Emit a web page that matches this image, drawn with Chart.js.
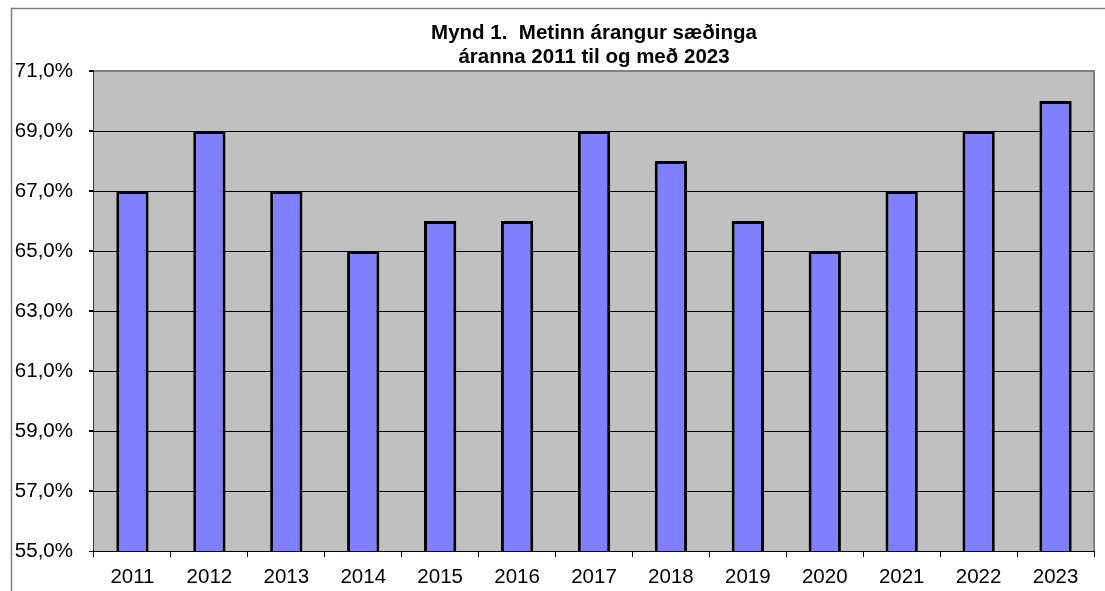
<!DOCTYPE html>
<html>
<head>
<meta charset="utf-8">
<script src="https://cdn.jsdelivr.net/npm/chart.js@4"></script>
<style>
  html, body { margin: 0; padding: 0; background: #ffffff; }
  canvas { display: block; }
</style>
</head>
<body>
<canvas id="chart" width="1105" height="591"></canvas>
<script>
// data
const years = ["2011", "2012", "2013", "2014", "2015", "2016", "2017", "2018", "2019", "2020", "2021", "2022", "2023"];
const arangur = [67, 69, 67, 65, 66, 66, 69, 68, 66, 65, 67, 69, 70];
const titleLines = ["Mynd 1.  Metinn árangur sæðinga", "áranna 2011 til og með 2023"];

// grey plot background, frame around the plot and the outer chart border
const frame = {
    id: "frame",
    beforeDatasetsDraw(chart) {
        const { ctx, chartArea: a } = chart;
        ctx.save();
        ctx.fillStyle = "#c0c0c0";
        ctx.fillRect(a.left, a.top, a.right - a.left, a.bottom - a.top);
        // gridlines were drawn before this hook, so draw them again over the fill
        const y = chart.scales.y;
        ctx.strokeStyle = "#000000";
        ctx.lineWidth = 1;
        y.ticks.forEach((t, i) => {
            const py = Math.round(y.getPixelForTick(i)) + 0.5;
            ctx.beginPath();
            ctx.moveTo(a.left - 5, py);
            ctx.lineTo(a.right, py);
            ctx.stroke();
        });
        ctx.strokeStyle = "#808080";
        ctx.lineWidth = 2;
        ctx.beginPath();
        ctx.moveTo(a.left, a.top);
        ctx.lineTo(a.right, a.top);
        ctx.lineTo(a.right, a.bottom);
        ctx.stroke();
        ctx.restore();
    },
    afterDraw(chart) {
        const { ctx, width, height } = chart;
        ctx.save();
        ctx.strokeStyle = "#808080";
        ctx.lineWidth = 1.5;
        ctx.beginPath();
        ctx.moveTo(11.5, height + 5);
        ctx.lineTo(11.5, 8.5);
        ctx.lineTo(width + 5, 8.5);
        ctx.stroke();
        ctx.restore();
    }
};

Chart.defaults.font.family = "'Liberation Sans', Arial, sans-serif";
Chart.defaults.color = "#000000";

new Chart(document.getElementById("chart").getContext("2d"), {
    type: "bar",
    data: {
        labels: years,
        datasets: [{
            data: arangur,
            backgroundColor: "#8080ff",
            borderColor: "#000000",
            borderWidth: 3,
            borderSkipped: false,
            categoryPercentage: 1,
            barPercentage: 0.42
        }]
    },
    options: {
        responsive: false,
        animation: false,
        layout: { padding: { left: 14, right: 11, top: 0, bottom: 0 } },
        plugins: {
            legend: { display: false },
            tooltip: { enabled: false },
            title: {
                display: true,
                fullSize: false,
                text: titleLines,
                font: { size: 20.5, weight: "bold", lineHeight: 1.17 },
                padding: { top: 21, bottom: 2 }
            }
        },
        scales: {
            y: {
                min: 55,
                max: 71,
                ticks: {
                    stepSize: 2,
                    padding: 16,
                    font: { size: 20.5 },
                    callback: v => v.toFixed(1).replace(".", ",") + "%"
                },
                grid: {
                    drawOnChartArea: false,
                    tickLength: 5,
                    tickColor: "#000000"
                },
                border: { color: "#404040", width: 2 },
                afterFit: s => { s.width = 80; }
            },
            x: {
                ticks: { padding: 8, font: { size: 20.5 } },
                grid: {
                    offset: true,
                    drawOnChartArea: false,
                    tickLength: 6,
                    tickColor: "#000000"
                },
                border: { color: "#000000", width: 2 },
                afterFit: s => { s.height = 40; }
            }
        }
    },
    plugins: [frame]
});
</script>
</body>
</html>
